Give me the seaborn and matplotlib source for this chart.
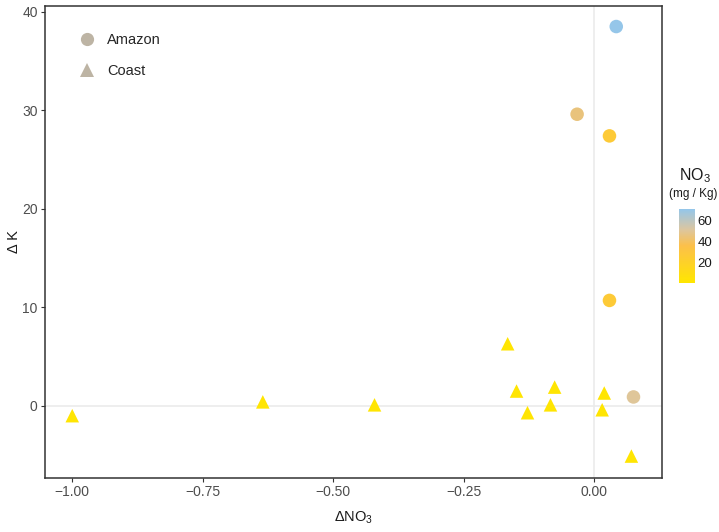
import numpy as np
import pandas as pd
import seaborn as sns
import matplotlib.pyplot as plt
from matplotlib.colors import LinearSegmentedColormap, Normalize
from matplotlib.lines import Line2D

# data
region = ["Amazon"] * 5 + ["Coast"] * 11
d_no3 = [0.042, -0.033, 0.029, 0.029, 0.075,
         -1.0, -0.635, -0.421, -0.166, -0.149, -0.128, -0.076, -0.084, 0.019, 0.015, 0.071]
d_k = [38.5, 29.6, 27.4, 10.7, 0.9,
       -1.0, 0.4, 0.1, 6.3, 1.5, -0.7, 1.9, 0.1, 1.3, -0.4, -5.1]
no3 = [70, 45, 27, 27, 50,
       2, 2, 2, 2, 2, 2, 2, 2, 2, 2, 2]

df = pd.DataFrame({"region": region, "d_no3": d_no3, "d_k": d_k, "no3": no3})

sns.set_theme(style="white")
plt.rcParams["font.family"] = ["Liberation Sans", "DejaVu Sans"]
plt.rcParams["mathtext.fontset"] = "custom"
plt.rcParams["mathtext.rm"] = "Liberation Sans"
plt.rcParams["mathtext.it"] = "Liberation Sans"

cmap = LinearSegmentedColormap.from_list(
    "no3", [(0, "#FFE600"), (0.5, "#FCC04A"), (0.72, "#DCC6A0"), (1, "#92C6EC")])
norm = Normalize(vmin=1, vmax=71)

fig = plt.figure(figsize=(7.19, 5.32), dpi=100)
ax = fig.add_axes([0.062, 0.102, 0.859, 0.887])

ax.axhline(0, color="#EBEBEB", lw=1.2, zorder=0)
ax.axvline(0, color="#EBEBEB", lw=1.2, zorder=0)

sns.scatterplot(data=df, x="d_no3", y="d_k", hue="no3", style="region",
                markers={"Amazon": "o", "Coast": "^"}, palette=cmap, hue_norm=norm,
                s=95, linewidth=0, legend=False, ax=ax, zorder=3)

ax.set_xlim(-1.053, 0.130)
ax.set_ylim(-7.3, 40.6)
ax.set_xticks([-1.0, -0.75, -0.5, -0.25, 0.0])
ax.set_xticklabels(["\u22121.00", "\u22120.75", "\u22120.50", "\u22120.25", "0.00"])
ax.set_yticks([0, 10, 20, 30, 40])
ax.tick_params(axis="both", which="both", length=3, width=0.8, color="#333333",
               labelsize=10, labelcolor="#4D4D4D", pad=2, bottom=True, left=True)
for sp in ax.spines.values():
    sp.set_color("#333333")
    sp.set_linewidth(1.1)
ax.set_xlabel("\u0394NO$_3$", fontsize=10.5, color="#1A1A1A", labelpad=8)
ax.set_ylabel("\u0394 K", fontsize=10.5, color="#1A1A1A", labelpad=1)

# shape legend
handles = [Line2D([], [], marker="o", ls="", color="#BDB4A4", markersize=9.5, markeredgewidth=0),
           Line2D([], [], marker="^", ls="", color="#BDB4A4", markersize=9.5, markeredgewidth=0)]
ax.legend(handles, ["Amazon", "Coast"], loc="upper left", bbox_to_anchor=(0.035, 0.955),
          frameon=False, fontsize=10.5, handletextpad=0.4, labelspacing=1.2,
          borderaxespad=0)

# colour bar
cax = fig.add_axes([0.944, 0.468, 0.022, 0.140])
sm = plt.cm.ScalarMappable(cmap=cmap, norm=norm)
cb = fig.colorbar(sm, cax=cax)
cb.outline.set_visible(False)
cb.set_ticks([20, 40, 60])
cax.tick_params(length=3, width=0.8, color="white", direction="in", labelsize=9.5,
                labelcolor="#1A1A1A", pad=2)
fig.text(0.966, 0.653, "NO$_3$", ha="center", va="bottom", fontsize=11.5, color="#1A1A1A")
fig.text(0.964, 0.625, "(mg / Kg)", ha="center", va="bottom", fontsize=8.5, color="#1A1A1A")

fig.savefig("out.png", dpi=100)
